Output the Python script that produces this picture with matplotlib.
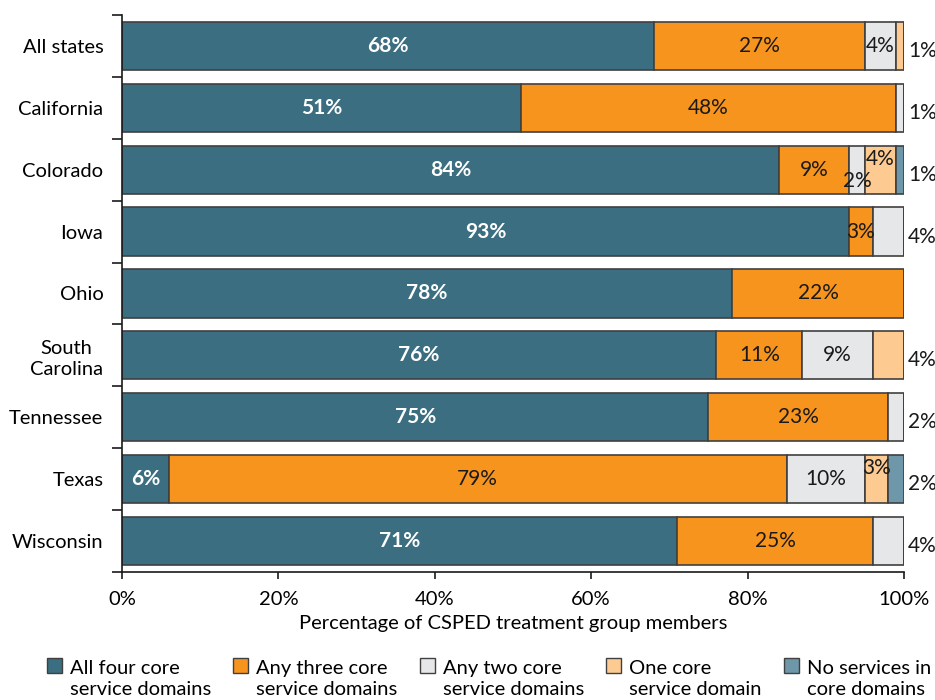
import matplotlib
matplotlib.use('Agg')
from matplotlib import pyplot as plt
from matplotlib.patches import Patch, Rectangle
from matplotlib.legend_handler import HandlerPatch
import numpy as np

plt.rcParams['font.family'] = ['Lato', 'DejaVu Sans']

states = ['All states', 'California', 'Colorado', 'Iowa', 'Ohio',
          'South\nCarolina', 'Tennessee', 'Texas', 'Wisconsin']
all_four = [68, 51, 84, 93, 78, 76, 75, 6, 71]
any_three = [27, 48, 9, 3, 22, 11, 23, 79, 25]
any_two = [4, 1, 2, 4, 0, 9, 2, 10, 4]
one_core = [1, 0, 4, 0, 0, 4, 0, 3, 0]
no_serv = [0, 0, 1, 0, 0, 0, 0, 2, 0]

series = [all_four, any_three, any_two, one_core, no_serv]
names = ['All four core\nservice domains', 'Any three core\nservice domains',
         'Any two core\nservice domains', 'One core\nservice domain',
         'No services in\ncore domains']
colors = ['#3b6e80', '#f7941d', '#e6e7e8', '#fdcb92', '#6f97aa']

# which small segments get a label inside the bar: (series, row) -> y shift
inside = {(2, 0): 0, (2, 5): 0, (2, 7): 0, (2, 2): 0.18,
          (3, 2): -0.18, (3, 7): -0.18}
# labels drawn outside the bar (row index, value)
outside = {0: 1, 1: 1, 2: 1, 3: 4, 5: 4, 6: 2, 7: 2, 8: 4}


def top_square(legend, orig_handle, xdescent, ydescent, width, height, fontsize):
    # legend square sits next to the first line of text
    return Rectangle((-xdescent, -ydescent + 9.5), width, height)


def main():
    fig = plt.figure(figsize=(9.35, 7), dpi=100)
    ax = fig.add_axes([0.1305, 0.1829, 0.8363, 0.7957])
    y = np.arange(len(states))
    left = np.zeros(len(states))
    for k, vals in enumerate(series):
        vals = np.array(vals, dtype=float)
        ax.barh(y, vals, left=left, height=0.78, color=colors[k],
                edgecolor='#404040', linewidth=1.2)
        for i, v in enumerate(vals):
            if v <= 0:
                continue
            cx = left[i] + v / 2
            txt = '{:d}%'.format(int(v))
            if k == 0:
                ax.text(cx, i, txt, ha='center', va='center', color='white',
                        fontsize=15, fontweight='bold')
            elif k == 1:
                ax.text(cx, i, txt, ha='center', va='center', color='#1a1a1a',
                        fontsize=15)
            elif (k, i) in inside:
                ax.text(cx, i + inside[(k, i)], txt, ha='center', va='center',
                        color='#1a1a1a', fontsize=15)
        left += vals

    for i, v in outside.items():
        ax.text(100.5, i + 0.08, '{}%'.format(v), ha='left', va='center',
                fontsize=15, color='#1a1a1a', clip_on=False)

    ax.set_xlim(0, 100)
    ax.set_ylim(len(states) - 0.5, -0.5)
    ax.set_yticks(y)
    ax.set_yticklabels(states, fontsize=14.5)
    for t in ax.get_yticklabels():
        t.set_multialignment('center')
        t.set_linespacing(1.3)
    ax.set_yticks(np.arange(len(states) + 1) - 0.5, minor=True)
    ax.tick_params(axis='y', which='major', length=0, pad=13.5)
    ax.tick_params(axis='y', which='minor', length=7, width=1.2, color='#1a1a1a')
    ax.set_xticks(np.arange(0, 101, 20))
    ax.set_xticklabels(['{}%'.format(t) for t in range(0, 101, 20)], fontsize=14.5)
    ax.tick_params(axis='x', length=5, width=1.2, color='#1a1a1a', pad=9)
    ax.set_xlabel('Percentage of CSPED treatment group members', fontsize=14.5,
                  labelpad=5)
    for s in ['top', 'right']:
        ax.spines[s].set_visible(False)
    for s in ['left', 'bottom']:
        ax.spines[s].set_linewidth(1.2)
        ax.spines[s].set_color('#1a1a1a')

    handles = [Patch(facecolor=c, edgecolor='#404040', linewidth=1.0) for c in colors]
    leg = fig.legend(handles, names, loc='lower center',
                     bbox_to_anchor=(0.523, -0.023),
                     ncol=5, frameon=False, fontsize=14.5, handlelength=0.75,
                     handleheight=0.75, handletextpad=0.4, columnspacing=1.1,
                     labelspacing=0.2,
                     handler_map={Patch: HandlerPatch(patch_func=top_square)})
    for t in leg.get_texts():
        t.set_linespacing(1.3)

    fig.savefig('out.png', dpi=100)


if __name__ == '__main__':
    main()
